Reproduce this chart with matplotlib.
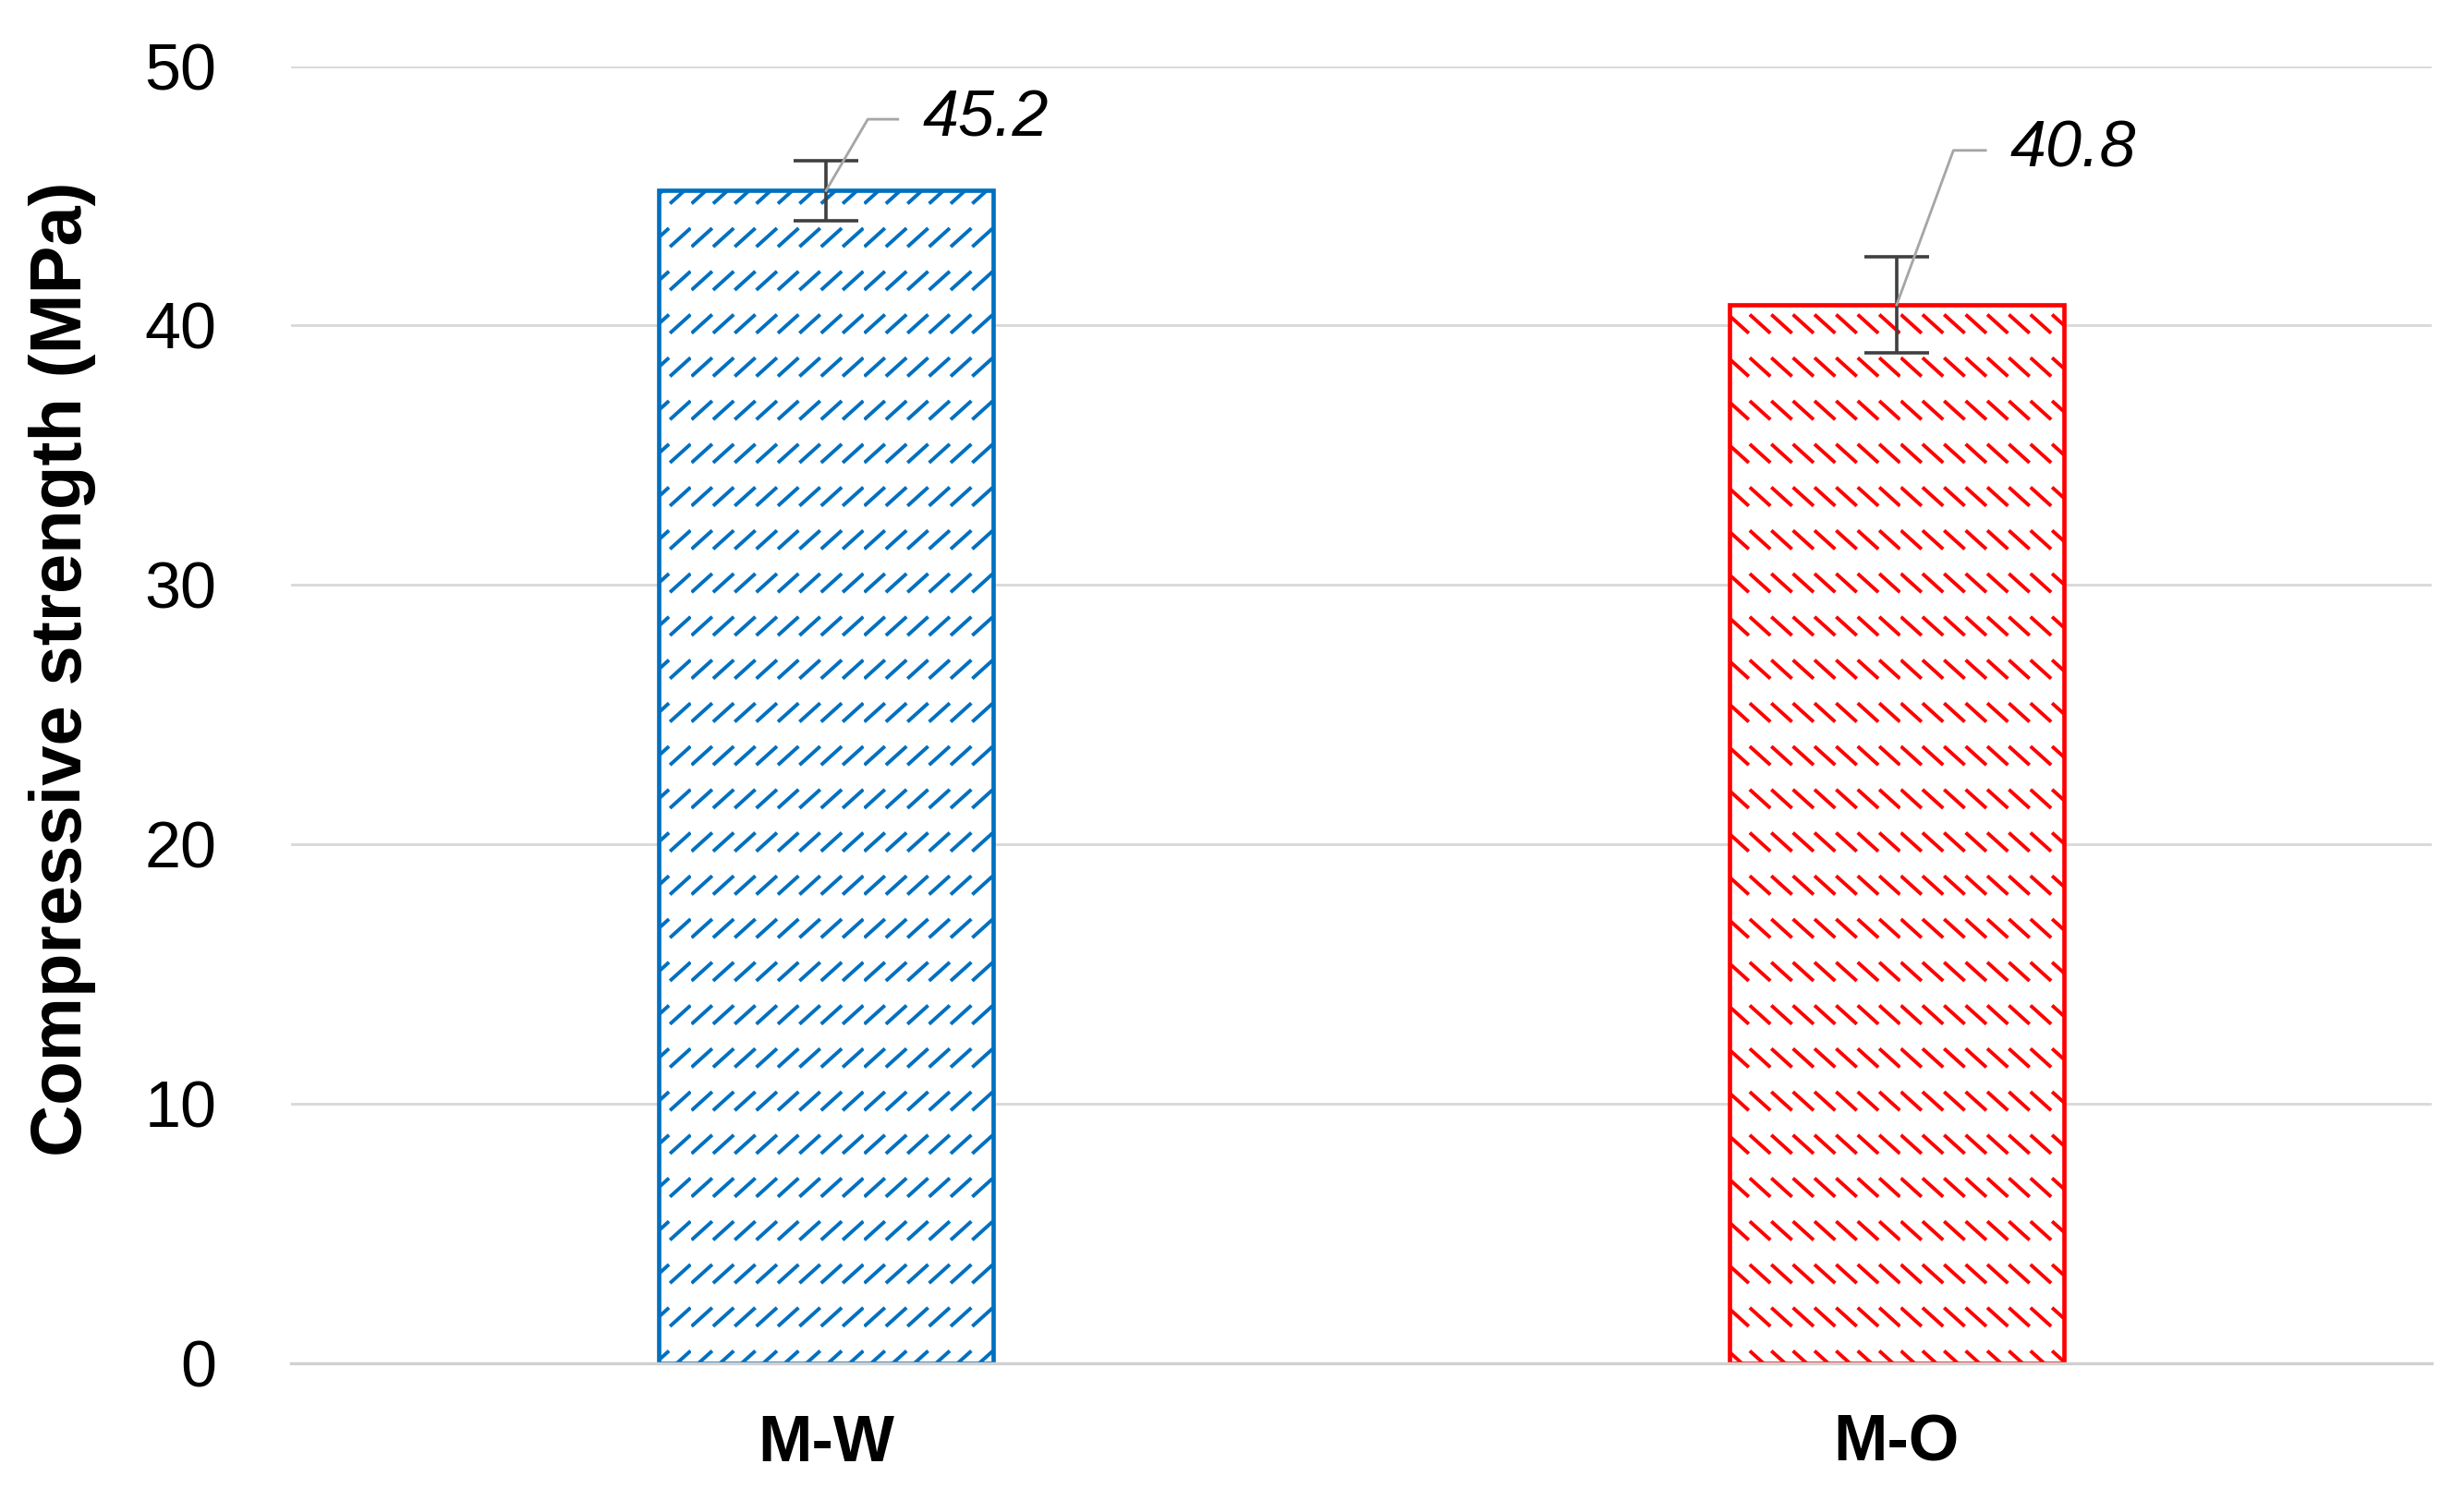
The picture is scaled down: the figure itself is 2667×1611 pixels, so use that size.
import numpy as np
import matplotlib
matplotlib.use("Agg")
import matplotlib.pyplot as plt
from matplotlib import hatch as mhatch
from matplotlib.path import Path


samples = ['M-W', 'M-O']
strength = [45.2, 40.8]
err = [1.15, 1.85]
bar_cols = ['#0070C0', '#FF0000']
hatches = ['/', '\\']

# label offset (dx, dy) from bar top, and leader corner / end x offsets
lab_off = [(0.149, 2.75), (0.165, 5.95)]
lead_x = [(0.039, 0.067), (0.053, 0.083)]


# Excel style "dashed diagonal" pattern: rows of short diagonal strokes
class DashRows(mhatch.HatchPatternBase):
    char = '/'
    rows, cols = 4, 8

    def __init__(self, hatch, density):
        n = hatch.count(self.char)
        self.num_vertices = 2 * self.rows * self.cols if n else 0

    def set_vertices_and_codes(self, vertices, codes):
        gx, gy = np.meshgrid((np.arange(self.cols) + 0.5) / self.cols,
                             (np.arange(self.rows) + 0.5) / self.rows)
        gx, gy = gx.ravel(), gy.ravel()
        dx, dy = 0.052, 0.047
        s = 1 if self.char == '/' else -1
        vertices[0::2, 0] = gx - dx
        vertices[0::2, 1] = gy - s * dy
        vertices[1::2, 0] = gx + dx
        vertices[1::2, 1] = gy + s * dy
        codes[0::2] = Path.MOVETO
        codes[1::2] = Path.LINETO


class DashRowsDown(DashRows):
    char = '\\'


mhatch._hatch_types = [t for t in mhatch._hatch_types
                       if t not in (mhatch.NorthEastHatch, mhatch.SouthEastHatch)]
mhatch._hatch_types += [DashRows, DashRowsDown]

plt.rcParams['font.family'] = ['Liberation Sans', 'DejaVu Sans']
plt.rcParams['hatch.linewidth'] = 1.5

fig = plt.figure(figsize=(2667 / 187, 1611 / 187), dpi=187)
ax = fig.add_axes([0.118, 0.0838, 0.869, 0.8718])

x = np.arange(len(samples))
for i in range(len(samples)):
    ax.bar(x[i], strength[i], width=0.313, color='white', edgecolor=bar_cols[i],
           linewidth=1.8, hatch=hatches[i], zorder=2)
ax.errorbar(x, strength, yerr=err, fmt='none', ecolor='#404040',
            elinewidth=1.4, capsize=13.5, capthick=1.4, zorder=3)

for i in range(len(samples)):
    v = strength[i]
    dx, dy = lab_off[i]
    cx, hx = lead_x[i]
    ax.plot([x[i], x[i] + cx, x[i] + hx], [v, v + dy, v + dy],
            color='#a6a6a6', lw=1.1, zorder=4)
    ax.text(x[i] + dx, v + dy, f"{v:.1f}", fontsize=27, style='italic',
            ha='center', va='center', zorder=5)

ax.set_xlim(-0.5, 1.5)
ax.set_ylim(0, 50)
ax.set_yticks([0, 10, 20, 30, 40, 50])
ax.set_xticks(x)
ax.set_xticklabels(samples, fontsize=27, fontweight='bold')
ax.tick_params(axis='y', length=0, pad=31, labelsize=27)
ax.tick_params(axis='x', length=0, pad=21)
ax.yaxis.grid(True, color='#d9d9d9', lw=1.1, zorder=0)
ax.set_axisbelow(True)
for s in ['top', 'right', 'left']:
    ax.spines[s].set_visible(False)
ax.spines['bottom'].set_color('#d0d0d0')
ax.spines['bottom'].set_linewidth(1.3)
ax.set_ylabel('Compressive strength (MPa)', fontsize=30, fontweight='bold')
ax.yaxis.set_label_coords(-0.091, 0.535)

fig.savefig('out.png', dpi=187)
